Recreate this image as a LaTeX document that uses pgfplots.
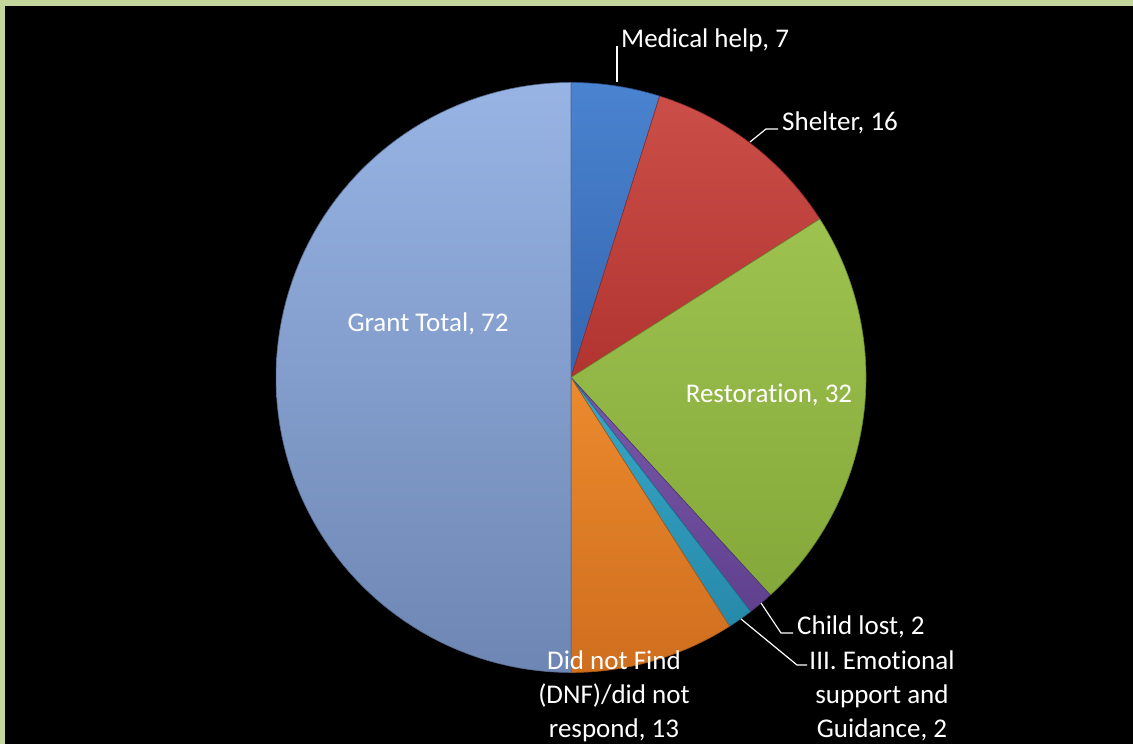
\documentclass[border=0pt]{standalone}
\usepackage{pgfplots}
\pgfplotsset{compat=1.18}
\usepackage{fontspec}
\setmainfont{Carlito}[Ligatures=NoCommon]

\definecolor{frame}{HTML}{C4D69C}
\definecolor{medT}{HTML}{4A83D0}\definecolor{medB}{HTML}{3566B0}
\definecolor{shlT}{HTML}{CC4E49}\definecolor{shlB}{HTML}{B23430}
\definecolor{resT}{HTML}{9DC24F}\definecolor{resB}{HTML}{84A93A}
\definecolor{chlT}{HTML}{7A58AA}\definecolor{chlB}{HTML}{60418E}
\definecolor{emoT}{HTML}{38A9C9}\definecolor{emoB}{HTML}{2689AA}
\definecolor{dnfT}{HTML}{EC8A2E}\definecolor{dnfB}{HTML}{CF6E1E}
\definecolor{grtT}{HTML}{97B4E4}\definecolor{grtB}{HTML}{6E86B3}

% values: Medical help 7, Shelter 16, Restoration 32, Child lost 2,
% III. Emotional support and Guidance 2, DNF 13, Grant Total 72
\def\pietotal{144}
\newcommand\pieslice[3]{%
  \pgfmathsetmacro\angA{90-(#1)/\pietotal*360}%
  \pgfmathsetmacro\angB{90-(#1+#2)/\pietotal*360}%
  \edef\doslice{\noexpand\addplot[#3, domain=\angB:\angA, samples=90, variable=\noexpand\t]
    ({571+295*cos(\noexpand\t)},{366.5+295*sin(\noexpand\t)}) -- (axis cs:571,366.5) -- cycle;}%
  \doslice
}

\begin{document}
\begin{tikzpicture}
\begin{axis}[
  scale only axis, width=1133pt, height=744pt,
  xmin=0, xmax=1133, ymin=0, ymax=744,
  hide axis, clip=false,
]
\fill[frame] (axis cs:0,0) rectangle (axis cs:1133,744);
\fill[black] (axis cs:5,0) rectangle (axis cs:1133,738);

\pieslice{0}{7}{top color=medT, bottom color=medB, draw=medB!80!black, line width=0.6pt}
\pieslice{7}{16}{top color=shlT, bottom color=shlB, draw=shlB!80!black, line width=0.6pt}
\pieslice{23}{32}{top color=resT, bottom color=resB, draw=resB!80!black, line width=0.6pt}
\pieslice{55}{2}{top color=chlT, bottom color=chlB, draw=chlB!80!black, line width=0.6pt}
\pieslice{57}{2}{top color=emoT, bottom color=emoB, draw=emoB!80!black, line width=0.6pt}
\pieslice{59}{13}{top color=dnfT, bottom color=dnfB, draw=dnfB!80!black, line width=0.6pt}
\pieslice{72}{72}{top color=grtT, bottom color=grtB, draw=grtB!80!black, line width=0.6pt}

% leader lines
\draw[white, line width=1.2pt] (axis cs:617,662) -- (axis cs:617,698);
\draw[white, line width=1.2pt] (axis cs:750,602) -- (axis cs:766,615) -- (axis cs:778,615);
\draw[white, line width=1.2pt] (axis cs:761,141) -- (axis cs:781,111) -- (axis cs:793,111);
\draw[white, line width=1.2pt] (axis cs:741,125) -- (axis cs:797,79) -- (axis cs:807,79);

\begin{scope}[every node/.style={text=white, font=\fontsize{27}{34}\selectfont, inner sep=0pt}]
\node[anchor=west] at (axis cs:621,704) {Medical help, 7};
\node[anchor=west] at (axis cs:782,621) {Shelter, 16};
\node at (axis cs:769,349) {Restoration, 32};
\node at (axis cs:428,420) {Grant Total, 72};
\node[anchor=west] at (axis cs:797,117) {Child lost, 2};
\node[align=center] at (axis cs:882,48) {III. Emotional\\support and\\Guidance, 2};
\node[align=center] at (axis cs:614,48) {Did not Find\\(DNF)/did not\\respond, 13};
\end{scope}
\end{axis}
\end{tikzpicture}
\end{document}
